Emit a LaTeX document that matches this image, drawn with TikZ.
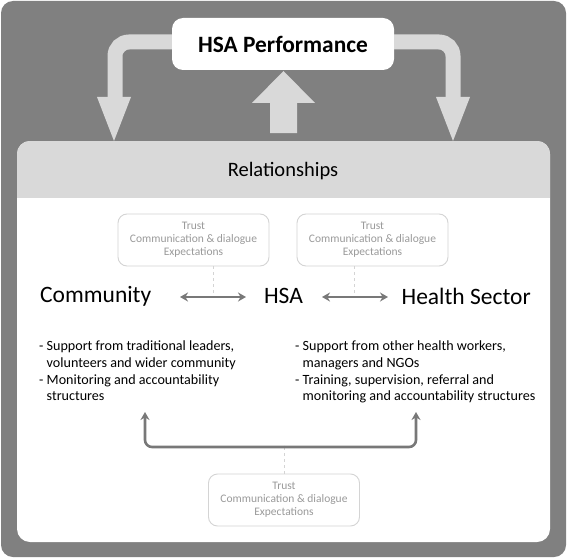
\documentclass[tikz,border=0pt]{standalone}
\usepackage{fontspec}
\setmainfont{Carlito}
\usetikzlibrary{arrows.meta}
\definecolor{outerg}{HTML}{808080}
\definecolor{lightg}{HTML}{D9D9D9}
\definecolor{boxb}{HTML}{D4D4D4}
\definecolor{boxt}{HTML}{9A9A9A}
\definecolor{arrg}{HTML}{787878}
\tikzset{
  smallbox/.style={draw=boxb, line width=0.9pt, rounded corners=9pt, minimum width=151pt, minimum height=52pt, text=boxt, font=\fontsize{11.5}{13}\selectfont, align=center, inner sep=0pt},
  party/.style={font=\fontsize{23.5}{26}\selectfont, text=black, inner sep=0pt},
  link/.style={arrg, line width=2.6pt, {Stealth[length=8pt,width=9pt]}-{Stealth[length=8pt,width=9pt]}},
  dashlink/.style={boxb, line width=0.8pt, dashed},
  bullets/.style={font=\fontsize{14.1}{16.6}\selectfont, align=left, inner sep=0pt, anchor=north west},
  bigband/.style={lightg, line width=15pt, rounded corners=14pt}
}
\begin{document}
\begin{tikzpicture}[x=1pt,y=-1pt]
\useasboundingbox (0,0) rectangle (567,559);
% outer frame
\fill[outerg, rounded corners=12pt] (1,1) rectangle (566,557);
% inner panel
\fill[white, rounded corners=13pt] (17,141) rectangle (550,542);
\begin{scope}
\clip[rounded corners=13pt] (17,141) rectangle (550,542);
\fill[lightg] (17,141) rectangle (550,198);
\end{scope}
\node[font=\fontsize{20.5}{23}\selectfont] (rel) at (283,171) {Relationships};
% performance box
\node[fill=white, rounded corners=11pt, minimum width=222pt, minimum height=52pt, inner sep=0pt, font=\bfseries\fontsize{23.4}{26}\selectfont] (perf) at (283,44) {HSA Performance};
% big arrows
\coordinate (ltip) at (114,141);
\coordinate (rtip) at (453,141);
\draw[bigband] (perf.west |- 0,42) -- (115,42) -- (115,100);
\fill[lightg] (97,97) -- (131,97) -- (ltip) -- cycle;
\draw[bigband] (perf.east |- 0,42) -- (453,42) -- (453,100);
\fill[lightg] (436,97) -- (470,97) -- (rtip) -- cycle;
\fill[lightg] (270,133) -- (270,103) -- (252,103) -- (283.5,71) -- (315,103) -- (297,103) -- (297,133) -- cycle;
% small boxes
\node[smallbox] (b1) at (193.5,240) {Trust\\Communication \& dialogue\\Expectations};
\node[smallbox] (b2) at (372.5,240) {Trust\\Communication \& dialogue\\Expectations};
\node[smallbox] (b3) at (284,500) {Trust\\Communication \& dialogue\\Expectations};
% parties
\node[party, anchor=west] (com) at (40,296) {Community};
\node[party] (hsa) at (283.5,296) {HSA};
\node[party, anchor=east] (hs) at (531,296) {Health Sector};
\coordinate (a1l) at (180,297); \coordinate (a1r) at (246,297);
\coordinate (a2l) at (322,297); \coordinate (a2r) at (388,297);
\draw[dashlink] (b1.south -| 213,0) -- (213,297);
\draw[dashlink] (b2.south -| 354,0) -- (354,297);
\draw[link] (a1l) -- (a1r);
\draw[link] (a2l) -- (a2r);
% bullets
\node[bullets] (lb) at (39,341) {- Support from traditional leaders,\\\hphantom{- }volunteers and wider community\\- Monitoring and accountability\\\hphantom{- }structures};
\node[bullets] (rb) at (295,341) {- Support from other health workers,\\\hphantom{- }managers and NGOs\\- Training, supervision, referral and\\\hphantom{- }monitoring and accountability structures};
% bottom bracket arrow
\coordinate (bl) at (145,412); \coordinate (br) at (416,412);
\draw[dashlink] (b3.north) -- (284,447);
\draw[arrg, line width=2.6pt, rounded corners=7pt, -{Stealth[length=8pt,width=9pt]}] (284,447) -- (145,447) -- (bl);
\draw[arrg, line width=2.6pt, rounded corners=7pt, -{Stealth[length=8pt,width=9pt]}] (284,447) -- (416,447) -- (br);
\end{tikzpicture}
\end{document}
